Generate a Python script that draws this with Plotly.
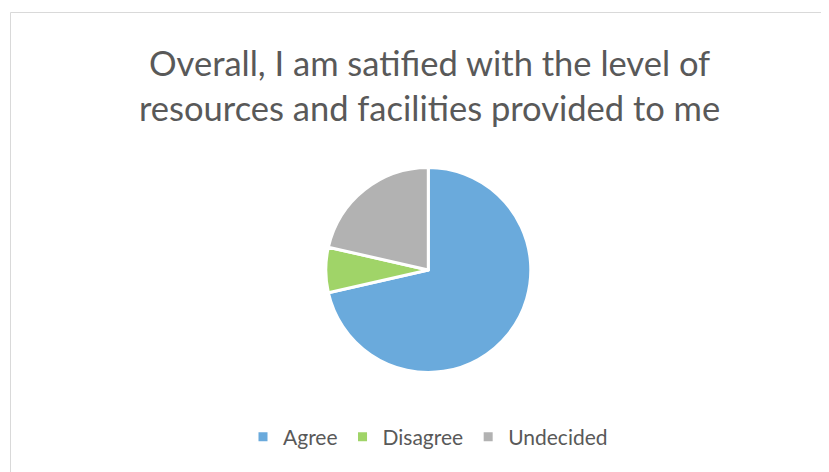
import plotly.graph_objects as go

categories = ["Agree", "Disagree", "Undecided"]
values = [10, 1, 3]
colors = ["#6AAADC", "#A0D468", "#B2B2B2"]
title_text = "Overall, I am satified with the level of<br>resources and facilities provided to me"

W, H = 829, 472
OFF = 8  # page body margin
cx, cy, r = 428.3 - OFF, 270.0 - OFF, 102.5

fig = go.Figure(go.Pie(
    labels=categories,
    values=values,
    sort=False,
    direction="clockwise",
    rotation=0,
    marker=dict(colors=colors, line=dict(color="white", width=3)),
    textinfo="none",
    hoverinfo="label+value+percent",
    domain=dict(x=[(cx - r) / W, (cx + r) / W], y=[1 - (cy + r) / H, 1 - (cy - r) / H]),
))

fig.update_layout(
    width=W, height=H,
    margin=dict(l=0, r=0, t=0, b=0),
    paper_bgcolor="white",
    font=dict(family="Lato, sans-serif", color="#595959"),
    showlegend=True,
    legend=dict(orientation="h", x=(428 - OFF) / W, xanchor="center", y=1 - (437 - OFF) / H, yanchor="middle",
                font=dict(size=21, color="#595959"), itemwidth=30, traceorder="normal"),
    annotations=[dict(text=title_text, x=(429 - OFF) / W, y=1 - (85 - OFF) / H, xref="paper", yref="paper",
                      xanchor="center", yanchor="middle", showarrow=False,
                      font=dict(size=34.5, color="#595959"))],
    shapes=[dict(type="rect", xref="paper", yref="paper", x0=(10.5 - OFF) / W, x1=1.02, y0=-0.05,
                 y1=1 - (12.5 - OFF) / H,
                 line=dict(color="#D9D9D9", width=1), fillcolor="rgba(0,0,0,0)", layer="below")],
)

fig.write_html("out.html")
